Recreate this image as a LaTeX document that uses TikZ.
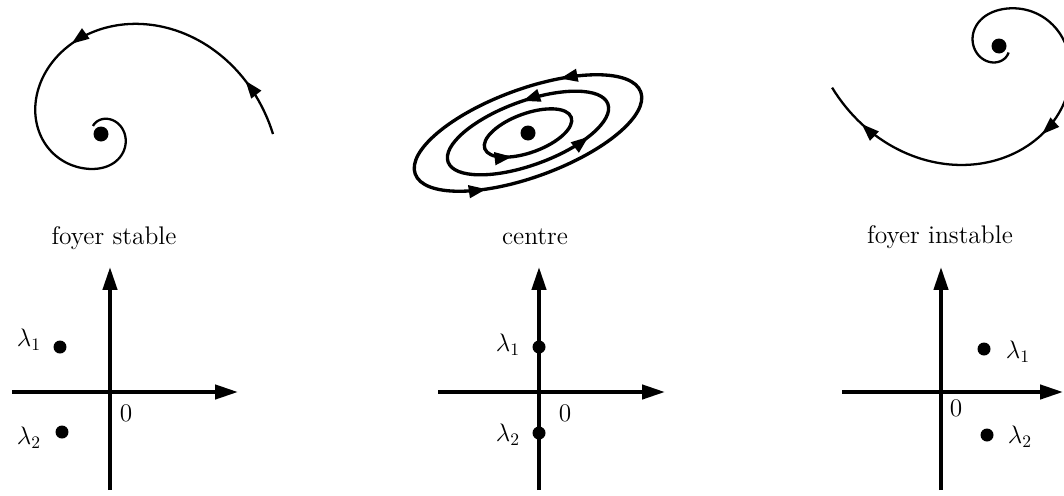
\documentclass[tikz,border=0pt]{standalone}
\usepackage{tikz}
\usetikzlibrary{arrows.meta, decorations.markings}

\begin{document}
\begin{tikzpicture}[
  x=0.02cm, y=0.02cm,
  font=\fontsize{14.5}{17}\selectfont,
  axisline/.style={line width=2.2pt, -{Triangle[length=13pt, width=8pt]}},
  orbit/.style={line width=1.3pt},
  cycleline/.style={line width=1.9pt},
  eigdot/.style={circle, fill=black, inner sep=0pt, minimum size=0.26cm},
  eqdot/.style={circle, fill=black, inner sep=0pt, minimum size=0.3cm},
  flowmark/.style={postaction={decorate}, decoration={markings,
      mark=at position #1 with {\arrow{Triangle[length=10pt, width=7pt]}}}},
  flowmarks/.style 2 args={postaction={decorate}, decoration={markings,
      mark=at position #1 with {\arrow{Triangle[length=10pt, width=7pt]}},
      mark=at position #2 with {\arrow{Triangle[length=10pt, width=7pt]}}}},
  declare function={rsp(\t)=172*exp(-0.0055*\t)*(1-0.15*exp(-((\t-245)/60)*((\t-245)/60)));},
]
\useasboundingbox (0,0) rectangle (1064,495);

% =================================================================
%  LEFT — FOYER STABLE
% =================================================================
\draw[orbit, flowmarks={0.115}{0.49}]
  plot[domain=0:495, samples=250] ({101+rsp(\x)*cos(\x)}, {361+rsp(\x)*sin(\x)});
\node[eqdot] (st-eq) at (101,361) {};

\node (st-title) at (114,257) {foyer stable};

\coordinate (st-xl) at (12,103);
\coordinate (st-xr) at (238,103);
\coordinate (st-yb) at (110,5);
\coordinate (st-yt) at (110,228);
\draw[axisline] (st-xl) -- (st-xr);
\draw[axisline] (st-yb) -- (st-yt);

\node[eigdot] (st-l1) at (60,148) {};
\node[eigdot] (st-l2) at (62,63) {};
\node (st-l1-lbl) at (29,155) {$\lambda_1$};
\node (st-l2-lbl) at (29,57) {$\lambda_2$};
\node (st-zero) at (126,82) {$0$};

% =================================================================
%  MIDDLE — CENTRE
% =================================================================
\begin{scope}[shift={(528,362)}, rotate=20]
  \draw[cycleline, flowmarks={0.160}{0.642}] (0,0) ellipse [x radius=120, y radius=44];
  \draw[cycleline, flowmarks={0.2345}{0.896}] (0,0) ellipse [x radius=85, y radius=32];
  \draw[cycleline, flowmark={0.642}] (0,0) ellipse [x radius=46, y radius=19.5];
\end{scope}
\node[eqdot] (ce-eq) at (528,362) {};

\node (ce-title) at (535,258) {centre};

\coordinate (ce-xl) at (438,103);
\coordinate (ce-xr) at (665,103);
\coordinate (ce-yb) at (539,5);
\coordinate (ce-yt) at (539,228);
\draw[axisline] (ce-xl) -- (ce-xr);
\draw[axisline] (ce-yb) -- (ce-yt);

\node[eigdot] (ce-l1) at (539,148) {};
\node[eigdot] (ce-l2) at (539,62) {};
\node (ce-l1-lbl) at (508,150) {$\lambda_1$};
\node (ce-l2-lbl) at (508,60) {$\lambda_2$};
\node (ce-zero) at (565,82) {$0$};

% =================================================================
%  RIGHT — FOYER INSTABLE
% =================================================================
\draw[orbit, flowmarks={0.53}{0.91}]
  plot[domain=0:492, samples=250] ({999+rsp(492-\x)*cos(-34-\x)}, {449+rsp(492-\x)*sin(-34-\x)});
\node[eqdot] (un-eq) at (999,449) {};

\node (un-title) at (940,258) {foyer instable};

\coordinate (un-xl) at (842,103);
\coordinate (un-xr) at (1063,103);
\coordinate (un-yb) at (941,5);
\coordinate (un-yt) at (941,228);
\draw[axisline] (un-xl) -- (un-xr);
\draw[axisline] (un-yb) -- (un-yt);

\node[eigdot] (un-l1) at (984,146) {};
\node[eigdot] (un-l2) at (987,60) {};
\node (un-l1-lbl) at (1018,143) {$\lambda_1$};
\node (un-l2-lbl) at (1020,58) {$\lambda_2$};
\node (un-zero) at (956,87) {$0$};

\end{tikzpicture}
\end{document}
